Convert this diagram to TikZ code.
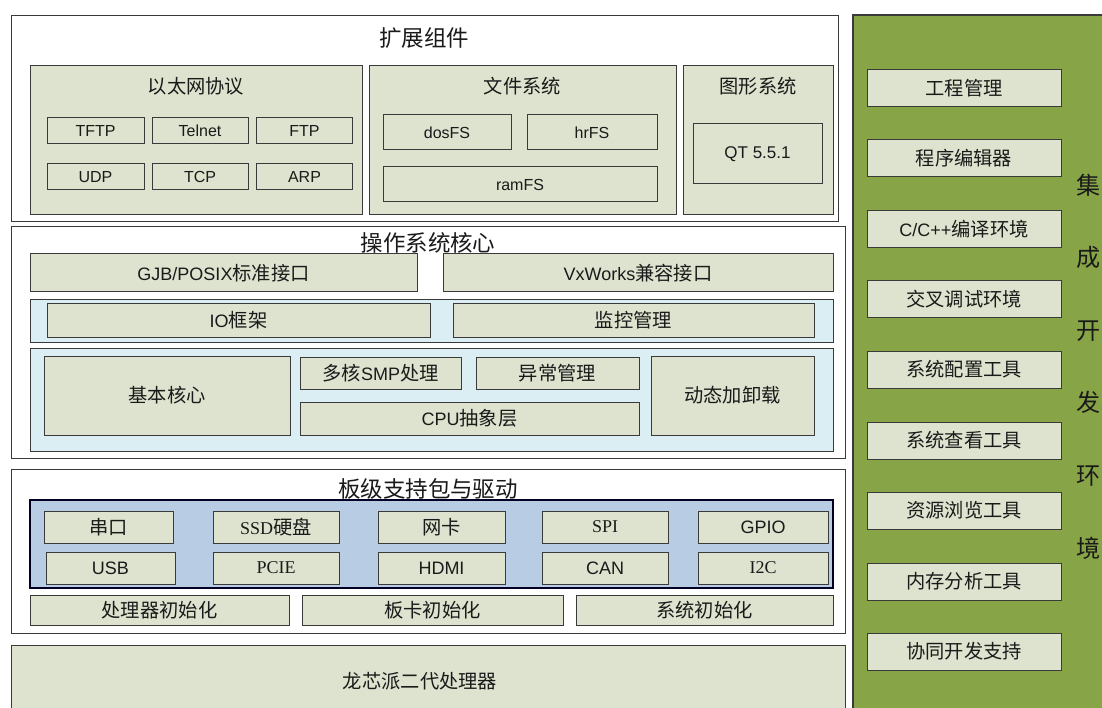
\documentclass[tikz,border=0pt]{standalone}
\usepackage{fontspec}
\setmainfont{Liberation Sans}
\newfontfamily\zhfont[Scale=1.07]{Noto Sans CJK SC}
\newfontfamily\serfont{Liberation Serif}
\newcommand\zh[1]{{\zhfont#1}}
\definecolor{linegray}{HTML}{3A3A3A}
\definecolor{boxfill}{HTML}{DDE3CE}
\definecolor{paleblue}{HTML}{DAEEF3}
\definecolor{bandblue}{HTML}{B8CCE4}
\definecolor{idegreen}{HTML}{87A447}
\definecolor{txt}{HTML}{1A1A1A}
\begin{document}
\begin{tikzpicture}[x=1pt, y=-1pt,
    every node/.style={inner sep=0pt, text=txt},
    layer/.style={draw=linegray, fill=white, line width=0.8pt},
    group/.style={draw=linegray, fill=boxfill, line width=0.8pt},
    band/.style={draw=linegray, fill=paleblue, line width=0.9pt},
    box/.style={draw=linegray, fill=boxfill, line width=1pt,
                font=\fontsize{18}{20}\selectfont},
    smallbox/.style={box, font=\fontsize{16}{18}\selectfont},
    title/.style={font=\fontsize{21}{24}\selectfont},
    subtitle/.style={font=\fontsize{18}{20}\selectfont}]

\useasboundingbox (0,0) rectangle (1102,708);

\node[layer, minimum width=827, minimum height=206] (ext) at (424.5,118) {};
\node[layer, minimum width=834, minimum height=232] (os) at (428,342) {};
\node[layer, minimum width=834, minimum height=164] (bsp) at (428,551) {};
\node[group, minimum width=834, minimum height=70] (cpu) at (428,680) {};
\node[font=\fontsize{18}{20}\selectfont] (cputext) at (420,681) {\zh{龙芯派二代处理器}};
\node[draw=linegray, fill=idegreen, line width=2pt, minimum width=252, minimum height=697] (ide) at (979,363.5) {};

\node[title] (exttitle) at (424,38) {\zh{扩展组件}};
\node[group, minimum width=332, minimum height=149] (eth) at (196,139.5) {};
\node[group, minimum width=307, minimum height=149] (fs) at (522.5,139.5) {};
\node[group, minimum width=150, minimum height=149] (gfx) at (758,139.5) {};
\node[subtitle] (ethtitle) at (196,86) {\zh{以太网协议}};
\node[subtitle] (fstitle) at (522.5,86) {\zh{文件系统}};
\node[subtitle] (gfxtitle) at (758,86) {\zh{图形系统}};

\node[smallbox, minimum width=97, minimum height=26] (tftp) at (95.5,131) {TFTP};
\node[smallbox, minimum width=96, minimum height=26] (telnet) at (200,131) {Telnet};
\node[smallbox, minimum width=96, minimum height=26] (ftp) at (304.5,131) {FTP};
\node[smallbox, minimum width=97, minimum height=26] (udp) at (95.5,177) {UDP};
\node[smallbox, minimum width=96, minimum height=26] (tcp) at (200,177) {TCP};
\node[smallbox, minimum width=96, minimum height=26] (arp) at (304.5,177) {ARP};
\node[smallbox, minimum width=128, minimum height=35] (dosfs) at (447,132.5) {dosFS};
\node[smallbox, minimum width=130, minimum height=35] (hrfs) at (592,132.5) {hrFS};
\node[smallbox, minimum width=274, minimum height=35] (ramfs) at (520,184.5) {ramFS};
\node[smallbox, minimum width=129, minimum height=60, font=\fontsize{17}{19}\selectfont] (qt) at (757.5,154) {QT 5.5.1};

\node[box, minimum width=387, minimum height=38] (gjb) at (223.5,273) {GJB/POSIX\zh{标准接口}};
\node[box, minimum width=390, minimum height=38] (vxw) at (638,273) {VxWorks\zh{兼容接口}};
\node[band, minimum width=803, minimum height=43] (ioband) at (431.5,320.5) {};
\node[box, minimum width=383, minimum height=33] (io) at (238.5,320.5) {IO\zh{框架}};
\node[box, minimum width=361, minimum height=33] (mon) at (633.5,320.5) {\zh{监控管理}};
\node[band, minimum width=803, minimum height=103] (kband) at (431.5,399.5) {};
\node[box, minimum width=246, minimum height=79] (kern) at (167,395.5) {\zh{基本核心}};
\node[box, minimum width=161, minimum height=32] (smp) at (380.5,373) {\zh{多核}SMP\zh{处理}};
\node[box, minimum width=163, minimum height=32] (exc) at (557.5,373) {\zh{异常管理}};
\node[box, minimum width=339, minimum height=33] (cpuabs) at (469.5,418.5) {CPU\zh{抽象层}};
\node[box, minimum width=163, minimum height=79] (dyn) at (732.5,395.5) {\zh{动态加卸载}};
\node[title] (ostitle) at (428,243) {\zh{操作系统核心}};

\node[title] (bsptitle) at (428,489) {\zh{板级支持包与驱动}};
\node[draw=black!85!blue, fill=bandblue, line width=2.4pt, minimum width=803, minimum height=88] (drvband) at (431.5,544) {};
\node[box, minimum width=129, minimum height=32] (uart) at (108.5,527) {\zh{串口}};
\node[box, minimum width=126, minimum height=32] (ssd) at (276,527) {{\serfont SSD}\zh{硬盘}};
\node[box, minimum width=127, minimum height=32] (nic) at (441.5,527) {\zh{网卡}};
\node[box, minimum width=126, minimum height=32, font=\serfont\fontsize{18}{20}\selectfont] (spi) at (605,527) {SPI};
\node[box, minimum width=130, minimum height=32] (gpio) at (763,527) {GPIO};
\node[box, minimum width=129, minimum height=32] (usb) at (110.5,568) {USB};
\node[box, minimum width=126, minimum height=32, font=\serfont\fontsize{18}{20}\selectfont] (pcie) at (276,568) {PCIE};
\node[box, minimum width=127, minimum height=32] (hdmi) at (441.5,568) {HDMI};
\node[box, minimum width=126, minimum height=32] (can) at (605,568) {CAN};
\node[box, minimum width=130, minimum height=32, font=\serfont\fontsize{18}{20}\selectfont] (iic) at (763,568) {I2C};
\node[box, minimum width=259, minimum height=30] (cpuinit) at (159.5,610) {\zh{处理器初始化}};
\node[box, minimum width=261, minimum height=30] (boardinit) at (432.5,610) {\zh{板卡初始化}};
\node[box, minimum width=257, minimum height=30] (sysinit) at (704.5,610) {\zh{系统初始化}};

\node[box, minimum width=194, minimum height=37] (proj) at (964,88.5) {\zh{工程管理}};
\node[box, minimum width=194, minimum height=37] (editor) at (964,158.5) {\zh{程序编辑器}};
\node[box, minimum width=194, minimum height=37] (compiler) at (964,229.5) {C/C++\zh{编译环境}};
\node[box, minimum width=194, minimum height=37] (debug) at (964,299.5) {\zh{交叉调试环境}};
\node[box, minimum width=194, minimum height=37] (config) at (964,369.5) {\zh{系统配置工具}};
\node[box, minimum width=194, minimum height=37] (viewer) at (964,440.5) {\zh{系统查看工具}};
\node[box, minimum width=194, minimum height=37] (browser) at (964,510.5) {\zh{资源浏览工具}};
\node[box, minimum width=194, minimum height=37] (memory) at (964,581.5) {\zh{内存分析工具}};
\node[box, minimum width=194, minimum height=37] (collab) at (964,651.5) {\zh{协同开发支持}};
\node[align=center, font=\zhfont\fontsize{22.5}{72.6}\selectfont] (idetitle) at (1089,366.5)
    {集\\成\\开\\发\\环\\境};

\end{tikzpicture}
\end{document}
